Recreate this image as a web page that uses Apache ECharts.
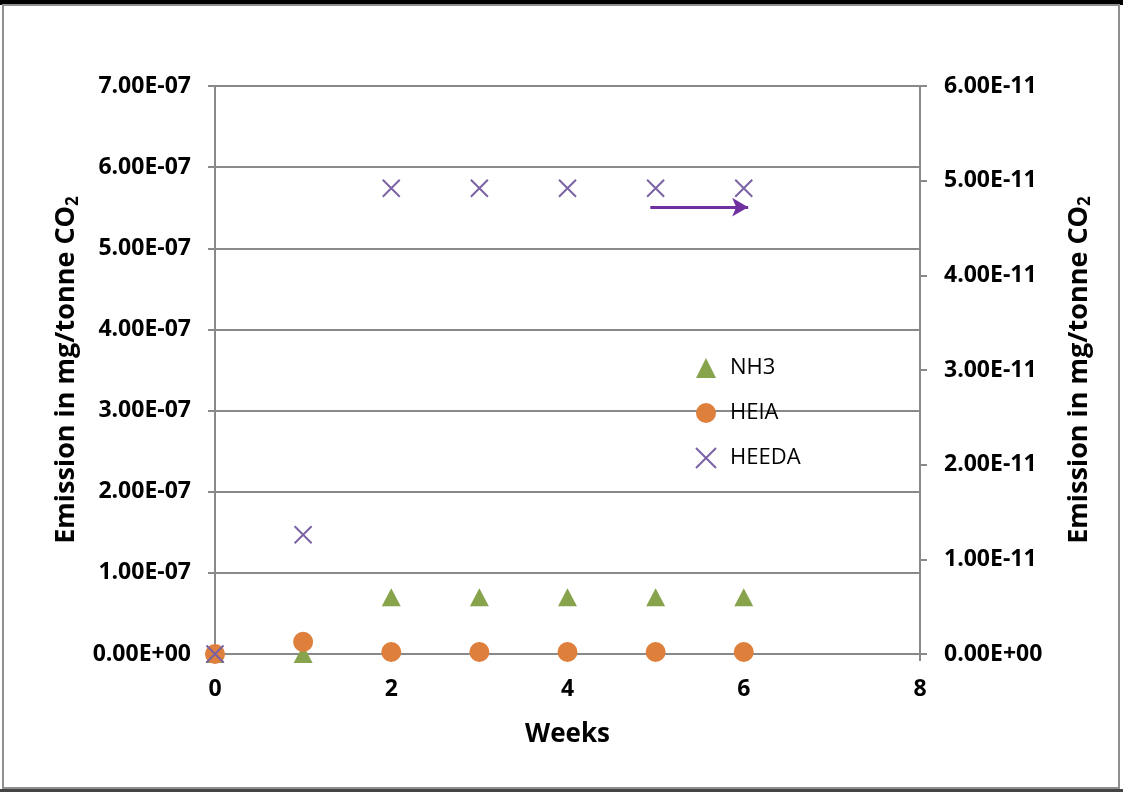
<!DOCTYPE html>
<html>
<head>
<meta charset="utf-8">
<title>Emission vs Weeks</title>
<script src="https://cdn.jsdelivr.net/npm/echarts@6/dist/echarts.min.js"></script>
<style>
  html, body { margin: 0; padding: 0; background: #fff; }
  #chart { width: 1123px; height: 792px; }
</style>
</head>
<body>
<div id="chart"></div>
<script>
// Sampling weeks
const weeks = [0, 1, 2, 3, 4, 5, 6];
// Emissions, mg/tonne CO2 (NH3 and HEIA on the left axis, HEEDA on the right axis)
const nh3 = [0, 0, 7.0e-8, 7.0e-8, 7.0e-8, 7.0e-8, 7.0e-8];
const heia = [0, 1.5e-8, 2.5e-9, 2.5e-9, 2.5e-9, 2.5e-9, 2.5e-9];
const heeda = [0, 1.26e-11, 4.92e-11, 4.92e-11, 4.92e-11, 4.92e-11, 4.92e-11];
// Arrow pointing HEEDA to its (right) axis, in data units of that axis
const arrowFrom = [4.94, 4.72e-11];
const arrowTo = [6.05, 4.72e-11];

const FONT = '"Open Sans", "Noto Sans", sans-serif';

function sci(v) {
  if (v === 0) return '0.00E+00';
  const s = v.toExponential(2);            // e.g. "7.00e-7"
  const parts = s.split('e');
  const exp = parseInt(parts[1], 10);
  const sign = exp < 0 ? '-' : '+';
  const abs = Math.abs(exp);
  return parts[0] + 'E' + sign + (abs < 10 ? '0' + abs : '' + abs);
}

const pairs = (ys) => weeks.map((w, i) => [w, ys[i]]);

const axisTitle = {
  fontFamily: FONT, fontSize: 27, fontWeight: 700, color: '#000',
  rich: { sub: { fontFamily: FONT, fontSize: 17, fontWeight: 700, color: '#000', verticalAlign: 'bottom', padding: [13, 0, 0, 0] } }
};
const tickLabel = { fontFamily: FONT, fontSize: 23, fontWeight: 700, color: '#000' };
const axisLine = { show: true, lineStyle: { color: '#898989', width: 2 } };
const axisTick = { show: true, length: 7, lineStyle: { color: '#898989', width: 2 } };

const chart = echarts.init(document.getElementById('chart'), null, { renderer: 'canvas' });
chart.setOption({
  animation: false,
  backgroundColor: '#fff',
  grid: { left: 215, right: 203, top: 86, bottom: 138, containLabel: false },
  legend: {
    orient: 'vertical', left: 690, top: 352,
    itemWidth: 20, itemHeight: 20, itemGap: 23,
    textStyle: { fontFamily: FONT, fontSize: 22, color: '#000', padding: [0, 0, 0, 9] },
    data: ['NH3', 'HEIA', 'HEEDA']
  },
  xAxis: {
    type: 'value', min: 0, max: 8, interval: 2,
    name: 'Weeks', nameLocation: 'middle', nameGap: 68,
    nameTextStyle: { fontFamily: FONT, fontSize: 26, fontWeight: 700, color: '#000' },
    axisLine: axisLine, axisTick: axisTick,
    axisLabel: Object.assign({ margin: 24 }, tickLabel),
    splitLine: { show: false }
  },
  yAxis: [
    {
      type: 'value', min: 0, max: 7e-7, interval: 1e-7, position: 'left',
      name: 'Emission in mg/tonne CO{sub|2}', nameLocation: 'middle', nameGap: 130, nameRotate: 90,
      nameTextStyle: axisTitle,
      axisLine: axisLine, axisTick: axisTick,
      axisLabel: Object.assign({ margin: 24, formatter: sci }, tickLabel),
      splitLine: { show: true, lineStyle: { color: '#898989', width: 2 } }
    },
    {
      type: 'value', min: 0, max: 6e-11, interval: 1e-11, position: 'right',
      name: 'Emission in mg/tonne CO{sub|2}', nameLocation: 'middle', nameGap: 144, nameRotate: 90,
      nameTextStyle: axisTitle,
      axisLine: axisLine, axisTick: axisTick,
      axisLabel: Object.assign({ margin: 24, formatter: sci }, tickLabel),
      splitLine: { show: false }
    }
  ],
  series: [
    {
      name: 'NH3', type: 'scatter', yAxisIndex: 0,
      symbol: 'triangle', symbolSize: [19, 18],
      itemStyle: { color: '#87A44C', opacity: 1 },
      data: pairs(nh3)
    },
    {
      name: 'HEIA', type: 'scatter', yAxisIndex: 0,
      symbol: 'circle', symbolSize: 20,
      itemStyle: { color: '#DE7F3B', opacity: 1 },
      data: pairs(heia)
    },
    {
      name: 'HEEDA', type: 'scatter', yAxisIndex: 1,
      symbol: 'path://M0,0L10,10M10,0L0,10', symbolSize: 17,
      itemStyle: { color: 'rgba(0,0,0,0)', borderColor: '#7A62A4', borderWidth: 2, opacity: 1 },
      data: pairs(heeda),
      markLine: {
        silent: true, animation: false,
        symbol: ['none', 'arrow'], symbolSize: [14, 16],
        label: { show: false },
        lineStyle: { color: '#7030A0', width: 3, type: 'solid' },
        data: [[{ coord: arrowFrom }, { coord: arrowTo }]]
      }
    }
  ],
  graphic: [
    { type: 'rect', shape: { x: 0, y: 0, width: 1123, height: 5 }, style: { fill: '#000' }, silent: true },
    { type: 'rect', shape: { x: 3, y: 5, width: 1116, height: 783 }, style: { fill: 'none', stroke: '#8f8f8f', lineWidth: 2 }, silent: true },
    { type: 'rect', shape: { x: 0, y: 789, width: 1123, height: 3 }, style: { fill: '#444' }, silent: true }
  ]
});
</script>
</body>
</html>
